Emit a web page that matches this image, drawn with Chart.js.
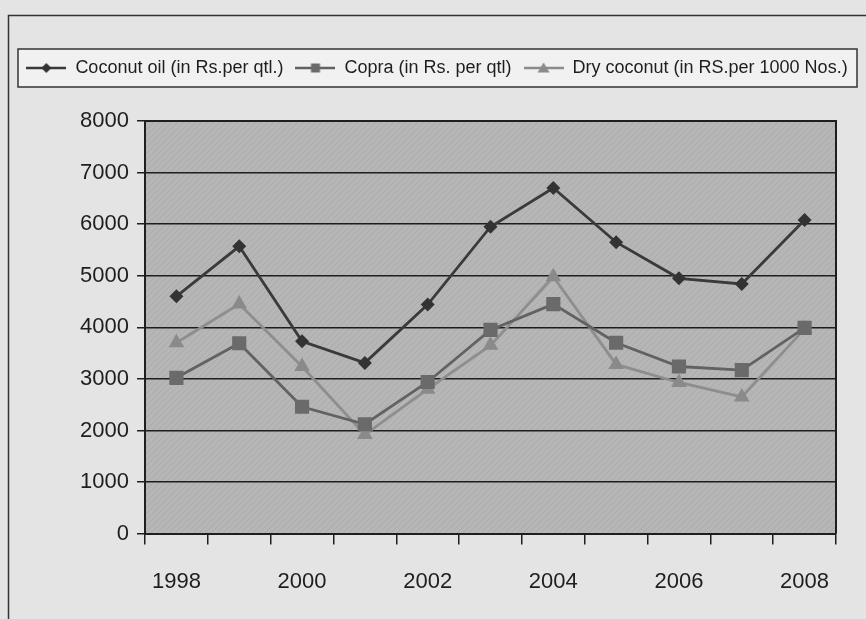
<!doctype html>
<html lang="en">
<head>
<meta charset="utf-8">
<title>Coconut product prices</title>
<style>
  html, body { margin: 0; padding: 0; background: #e4e4e4; }
  #wrap { width: 866px; height: 619px; }
</style>
</head>
<body>
<div id="wrap"><canvas id="myChart" width="866" height="619"></canvas></div>
<script src="https://cdn.jsdelivr.net/npm/chart.js@4.4.1/dist/chart.umd.min.js"></script>
<script>
// data
var years = ['1998', '1999', '2000', '2001', '2002', '2003', '2004', '2005', '2006', '2007', '2008'];
var shownYears = ['1998', '2000', '2002', '2004', '2006', '2008'];
var coconutOil = [4600, 5570, 3730, 3310, 4440, 5950, 6700, 5650, 4950, 4840, 6080];
var copra = [3020, 3690, 2460, 2120, 2940, 3950, 4450, 3700, 3240, 3170, 3990];
var dryCoconut = [3700, 4450, 3240, 1920, 2800, 3650, 4980, 3280, 2930, 2650, 3970];
var seriesNames = ['Coconut oil (in Rs.per qtl.)', 'Copra (in Rs. per qtl)', 'Dry coconut (in RS.per 1000 Nos.)'];

var FONT = "'Liberation Sans', Arial, sans-serif";
var INK = '#1e1e1e';

// little line+marker pictures for the legend
function legendIcon(kind, lineColor, fill) {
    var c = document.createElement('canvas');
    c.width = 40; c.height = 16;
    var g = c.getContext('2d');
    g.strokeStyle = lineColor;
    g.lineWidth = 2.5;
    g.beginPath(); g.moveTo(0, 8); g.lineTo(40, 8); g.stroke();
    g.fillStyle = fill;
    g.beginPath();
    if (kind == 'diamond') {
        g.moveTo(20, 3); g.lineTo(25, 8); g.lineTo(20, 13); g.lineTo(15, 8);
    } else if (kind == 'square') {
        g.rect(15.5, 3.5, 9, 9);
    } else {
        g.moveTo(20, 2.5); g.lineTo(26, 12.5); g.lineTo(14, 12.5);
    }
    g.closePath(); g.fill();
    return c;
}

// fine diagonal hatch of the plot area
function hatch() {
    var c = document.createElement('canvas');
    c.width = 6; c.height = 6;
    var g = c.getContext('2d');
    g.fillStyle = '#b6b6b6';
    g.fillRect(0, 0, 6, 6);
    g.strokeStyle = 'rgba(0,0,0,0.06)';
    g.lineWidth = 1;
    g.beginPath();
    g.moveTo(0, 6); g.lineTo(6, 0);
    g.moveTo(-3, 3); g.lineTo(3, -3);
    g.moveTo(3, 9); g.lineTo(9, 3);
    g.stroke();
    return c;
}

var icons = [
    legendIcon('diamond', '#3a3a3a', '#333333'),
    legendIcon('square', '#626262', '#6a6a6a'),
    legendIcon('triangle', '#8c8c8c', '#8a8a8a')
];

var frame = {
    id: 'frame',
    beforeLayout: function (chart) {
        // leave a gap between the legend and the plot
        var lg = chart.legend;
        if (lg && !lg._gapAdded) {
            var fit = lg.fit;
            lg.fit = function () {
                fit.call(this);
                this.height += 34;
            };
            lg._gapAdded = true;
        }
    },
    beforeDraw: function (chart) {
        var ctx = chart.ctx;
        var a = chart.chartArea;
        ctx.save();
        ctx.fillStyle = '#e4e4e4';
        ctx.fillRect(0, 0, chart.width, chart.height);
        // outer border
        ctx.strokeStyle = '#333';
        ctx.lineWidth = 1.5;
        ctx.beginPath();
        ctx.moveTo(8.5, 619); ctx.lineTo(8.5, 15.5); ctx.lineTo(866, 15.5);
        ctx.stroke();
        // legend box
        ctx.fillStyle = '#f1f1f1';
        ctx.fillRect(18, 49, 839, 38);
        ctx.strokeRect(18, 49, 839, 38);
        // plot area
        ctx.fillStyle = ctx.createPattern(hatch(), 'repeat');
        ctx.fillRect(a.left, a.top, a.right - a.left, a.bottom - a.top);
        ctx.restore();
    },
    afterDraw: function (chart) {
        var ctx = chart.ctx;
        var a = chart.chartArea;
        ctx.save();
        ctx.strokeStyle = INK;
        ctx.lineWidth = 2;
        ctx.beginPath();
        ctx.moveTo(a.left, a.top); ctx.lineTo(a.right, a.top); ctx.lineTo(a.right, a.bottom);
        ctx.stroke();
        ctx.restore();
    }
};

var ctx = document.getElementById('myChart').getContext('2d');
var chart = new Chart(ctx, {
    type: 'line',
    data: {
        labels: years,
        datasets: [{
            label: seriesNames[0],
            data: coconutOil,
            borderColor: '#3a3a3a',
            backgroundColor: '#333333',
            borderWidth: 2.8,
            pointStyle: 'rectRot',
            pointRadius: 7,
            pointBorderWidth: 0
        }, {
            label: seriesNames[1],
            data: copra,
            borderColor: '#626262',
            backgroundColor: '#6a6a6a',
            borderWidth: 2.8,
            pointStyle: 'rect',
            pointRadius: 10,
            pointBorderWidth: 0
        }, {
            label: seriesNames[2],
            data: dryCoconut,
            borderColor: '#8e8e8e',
            backgroundColor: '#8a8a8a',
            borderWidth: 2.8,
            pointStyle: 'triangle',
            pointRadius: 9,
            pointBorderWidth: 0
        }]
    },
    options: {
        responsive: false,
        animation: false,
        layout: { padding: { left: 8, right: 0, top: 47, bottom: 0 } },
        plugins: {
            tooltip: { enabled: false },
            legend: {
                position: 'top',
                labels: {
                    usePointStyle: true,
                    pointStyleWidth: 40,
                    padding: 12,
                    color: INK,
                    font: { family: FONT, size: 18 },
                    generateLabels: function (chart) {
                        return chart.data.datasets.map(function (ds, i) {
                            return {
                                text: ds.label,
                                pointStyle: icons[i],
                                fillStyle: ds.backgroundColor,
                                strokeStyle: ds.borderColor,
                                lineWidth: 0,
                                fontColor: INK,
                                datasetIndex: i
                            };
                        });
                    }
                }
            }
        },
        scales: {
            x: {
                offset: true,
                grid: { offset: true, drawOnChartArea: false, drawTicks: true, tickLength: 11, color: INK, lineWidth: 1.5 },
                border: { display: true, color: INK, width: 2 },
                ticks: {
                    autoSkip: false,
                    maxRotation: 0,
                    padding: 24,
                    color: INK,
                    font: { family: FONT, size: 22 },
                    callback: function (v, i) {
                        return shownYears.indexOf(years[i]) >= 0 ? years[i] : '';
                    }
                },
                afterFit: function (scale) {
                    scale.paddingRight = 30;
                }
            },
            y: {
                min: 0,
                max: 8000,
                ticks: {
                    stepSize: 1000,
                    padding: 8,
                    color: INK,
                    font: { family: FONT, size: 22 },
                    callback: function (v) { return String(v); }
                },
                grid: { color: INK, lineWidth: 1.5, tickLength: 8 },
                border: { display: true, color: INK, width: 2 },
                afterFit: function (scale) {
                    scale.width = 137;
                }
            }
        }
    },
    plugins: [frame]
});
</script>
</body>
</html>
